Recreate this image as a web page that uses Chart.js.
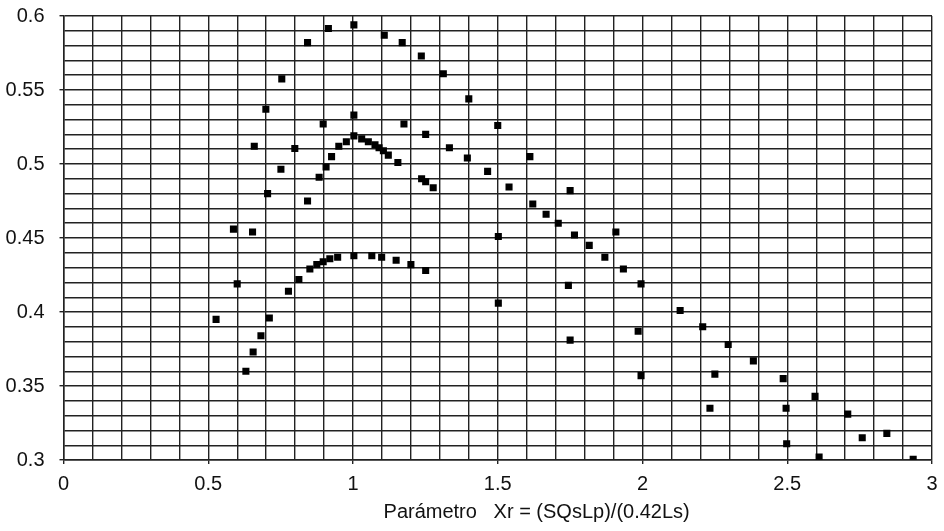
<!DOCTYPE html>
<html>
<head>
<meta charset="utf-8">
<script src="https://cdn.jsdelivr.net/npm/chart.js@4/dist/chart.umd.min.js"></script>
<style>
  html, body { margin: 0; padding: 0; background: #fff; }
  #wrap { width: 944px; height: 531px; }
</style>
</head>
<body>
<div id="wrap"><canvas id="chart"></canvas></div>
<script>
// values
const upperX = [0.527, 0.587, 0.653, 0.659, 0.699, 0.754, 0.799, 0.843, 0.915, 1.003, 1.108, 1.170, 1.236, 1.312, 1.400, 1.500, 1.611, 1.750, 1.908, 2.130, 2.208, 2.296, 2.383, 2.486, 2.596, 2.709, 2.844, 2.935];
const upperY = [0.395, 0.456, 0.454, 0.512, 0.537, 0.5575, 0.5105, 0.582, 0.5915, 0.594, 0.587, 0.582, 0.573, 0.561, 0.544, 0.526, 0.505, 0.482, 0.454, 0.401, 0.390, 0.378, 0.367, 0.355, 0.343, 0.331, 0.318, 0.3005];

const middleX = [0.600, 0.705, 0.751, 0.843, 0.883, 0.897, 0.907, 0.926, 0.951, 0.977, 1.003, 1.003, 1.030, 1.053, 1.076, 1.090, 1.105, 1.122, 1.155, 1.176, 1.237, 1.251, 1.251, 1.277, 1.333, 1.395, 1.465, 1.539, 1.621, 1.667, 1.709, 1.765, 1.816, 1.870, 1.934, 1.995, 2.250, 2.759];
const middleY = [0.419, 0.480, 0.4965, 0.475, 0.491, 0.527, 0.498, 0.505, 0.512, 0.515, 0.519, 0.533, 0.517, 0.515, 0.513, 0.511, 0.509, 0.506, 0.501, 0.527, 0.490, 0.488, 0.520, 0.484, 0.511, 0.504, 0.495, 0.4845, 0.473, 0.466, 0.460, 0.452, 0.445, 0.437, 0.429, 0.419, 0.358, 0.315];

const lowerX = [0.630, 0.655, 0.682, 0.711, 0.777, 0.813, 0.851, 0.875, 0.897, 0.920, 0.947, 1.003, 1.065, 1.099, 1.149, 1.200, 1.251, 1.502, 1.502, 1.744, 1.750, 1.985, 1.995, 2.233, 2.496, 2.498, 2.610];
const lowerY = [0.360, 0.373, 0.384, 0.396, 0.414, 0.422, 0.429, 0.432, 0.434, 0.436, 0.437, 0.438, 0.438, 0.437, 0.435, 0.432, 0.428, 0.451, 0.406, 0.418, 0.381, 0.387, 0.357, 0.335, 0.335, 0.311, 0.302];

const xTickLabels = [0, 0.5, 1, 1.5, 2, 2.5, 3];
const yTickLabels = [0.3, 0.35, 0.4, 0.45, 0.5, 0.55, 0.6];
const xTitle = "Parámetro   Xr = (SQsLp)/(0.42Ls)";

function toPoints(xs, ys) {
  return xs.map((x, i) => ({ x, y: ys[i] }));
}

// true if v is one of the labelled values
function isLabelled(v, list) {
  return list.some((l) => Math.abs(l - v) < 1e-6);
}

const fontFamily = "'Liberation Sans', Arial, sans-serif";
const gridColor = "#222";

const pointStyle = {
  showLine: false,
  pointStyle: "rect",
  pointRadius: 5,
  pointHoverRadius: 5,
  backgroundColor: "#000",
  borderColor: "#000",
  borderWidth: 0,
};

new Chart(document.getElementById("chart"), {
  type: "scatter",
  data: {
    datasets: [
      { label: "upper", data: toPoints(upperX, upperY), ...pointStyle },
      { label: "middle", data: toPoints(middleX, middleY), ...pointStyle },
      { label: "lower", data: toPoints(lowerX, lowerY), ...pointStyle },
    ],
  },
  options: {
    responsive: true,
    maintainAspectRatio: false,
    animation: false,
    layout: { padding: { top: 16, right: 12, left: 0, bottom: 0 } },
    plugins: {
      legend: { display: false },
      tooltip: { enabled: false },
    },
    scales: {
      x: {
        type: "linear",
        min: 0,
        max: 3,
        border: { display: true, color: gridColor, width: 1.5 },
        grid: {
          color: gridColor,
          lineWidth: 1.4,
          tickLength: 4,
          tickColor: (ctx) => (isLabelled(ctx.tick.value, xTickLabels) ? gridColor : "rgba(0,0,0,0)"),
        },
        ticks: {
          stepSize: 0.1,
          autoSkip: false,
          maxRotation: 0,
          padding: 8,
          color: "#111",
          font: { family: fontFamily, size: 20 },
          callback: (v) => (isLabelled(v, xTickLabels) ? String(Math.round(v * 10) / 10) : ""),
        },
        title: {
          display: true,
          // the caption sits right of the axis centre in the original
          text: " ".repeat(14) + xTitle,
          color: "#111",
          font: { family: fontFamily, size: 20 },
          padding: { top: 2, bottom: 7 },
        },
        afterFit: (scale) => {
          scale.height = 71;
          scale.paddingLeft = 0;
          scale.paddingRight = 0;
        },
      },
      y: {
        type: "linear",
        min: 0.3,
        max: 0.6,
        border: { display: true, color: gridColor, width: 1.5 },
        grid: {
          color: gridColor,
          lineWidth: 1.4,
          tickLength: 4,
          tickColor: (ctx) => (isLabelled(ctx.tick.value, yTickLabels) ? gridColor : "rgba(0,0,0,0)"),
        },
        ticks: {
          stepSize: 0.01,
          autoSkip: false,
          padding: 15,
          color: "#111",
          font: { family: fontFamily, size: 20 },
          callback: (v) => (isLabelled(v, yTickLabels) ? String(Math.round(v * 100) / 100) : ""),
        },
        afterFit: (scale) => {
          scale.width = 63.5;
          scale.paddingTop = 0;
          scale.paddingBottom = 0;
        },
      },
    },
  },
});
</script>
</body>
</html>
